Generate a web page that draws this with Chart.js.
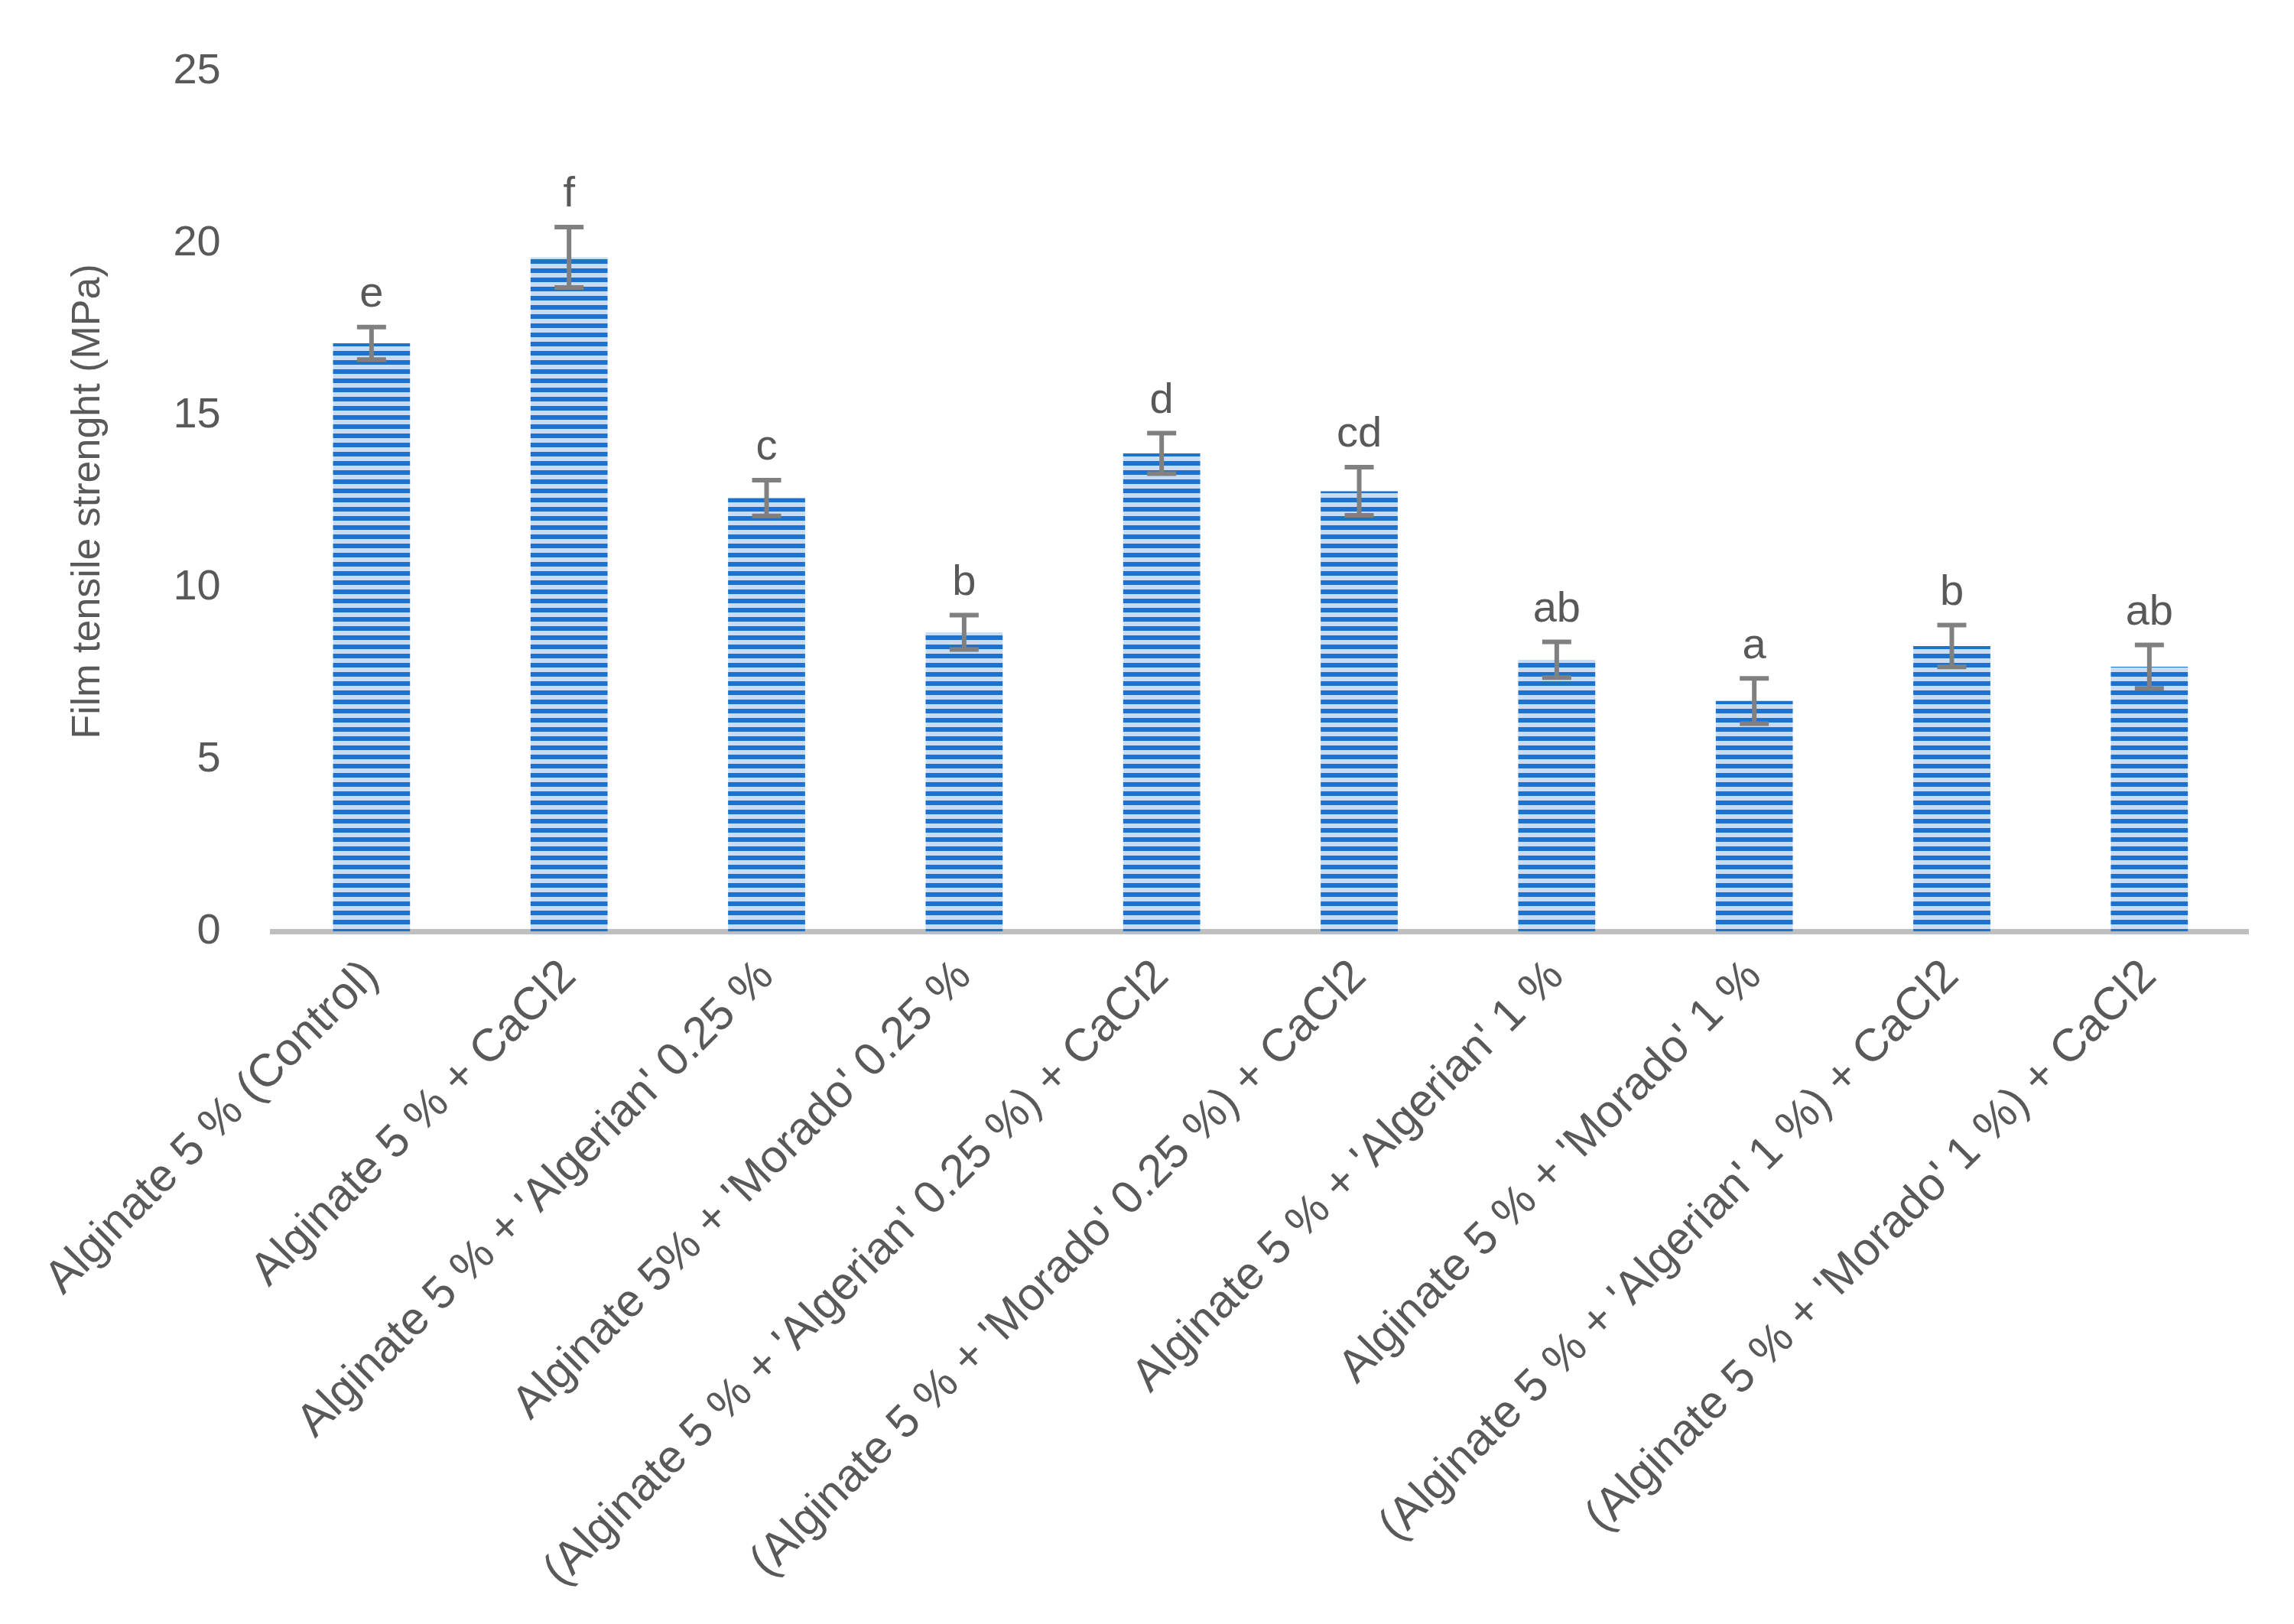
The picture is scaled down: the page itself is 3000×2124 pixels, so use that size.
<!DOCTYPE html>
<html>
<head>
<meta charset="utf-8">
<script src="https://cdn.jsdelivr.net/npm/chart.js@4"></script>
<style>
  html, body { margin: 0; background: #fff; }
  #wrap { width: 3000px; height: 2124px; }
</style>
</head>
<body>
<div id="wrap"><canvas id="chart" width="3000" height="2124"></canvas></div>
<script>
// Film tensile strength by formulation

const categories = [
  'Alginate 5 % (Control)',
  'Alginate 5 % + CaCl2',
  "Alginate 5 % + 'Algerian' 0.25 %",
  "Alginate 5% + 'Morado' 0.25 %",
  "(Alginate 5 % + 'Algerian' 0.25 %) + CaCl2",
  "(Alginate 5 % + 'Morado' 0.25 %) + CaCl2",
  "Alginate 5 % + 'Algerian' 1 %",
  "Alginate 5 % + 'Morado' 1 %",
  "(Alginate 5 % + 'Algerian' 1 %) + CaCl2",
  "(Alginate 5 % + 'Morado' 1 %) + CaCl2",
];
const strength = [17.1, 19.6, 12.6, 8.7, 13.9, 12.8, 7.9, 6.7, 8.3, 7.7];
const errors = [0.47, 0.88, 0.52, 0.5, 0.59, 0.7, 0.52, 0.66, 0.61, 0.63];
const letters = ['e', 'f', 'c', 'b', 'd', 'cd', 'ab', 'a', 'b', 'ab'];

const FONT = "'Liberation Sans', 'DejaVu Sans', sans-serif";
const GREY = '#595959';

function stripePattern(ctx) {
  const c = document.createElement('canvas');
  c.width = 8; c.height = 12;
  const p = c.getContext('2d');
  p.fillStyle = '#c9dcf3';
  p.fillRect(0, 0, 8, 12);
  p.fillStyle = '#1b73cf';
  p.fillRect(0, 3, 8, 6);
  return ctx.createPattern(c, 'repeat');
}

const errorBars = {
  id: 'errorBars',
  afterDatasetsDraw(chart) {
    const { ctx, scales: { y } } = chart;
    const meta = chart.getDatasetMeta(0);
    ctx.save();
    ctx.strokeStyle = '#808080';
    ctx.lineWidth = 6;
    ctx.fillStyle = GREY;
    ctx.font = '56px ' + FONT;
    ctx.textAlign = 'center';
    ctx.textBaseline = 'bottom';
    meta.data.forEach((bar, i) => {
      const hi = y.getPixelForValue(strength[i] + errors[i]);
      const lo = y.getPixelForValue(strength[i] - errors[i]);
      const x = bar.x;
      ctx.beginPath();
      ctx.moveTo(x, hi); ctx.lineTo(x, lo);
      ctx.moveTo(x - 19, hi); ctx.lineTo(x + 19, hi);
      ctx.moveTo(x - 19, lo); ctx.lineTo(x + 19, lo);
      ctx.stroke();
      ctx.fillText(letters[i], x, hi - 14);
    });
    ctx.restore();
  },
};

const ctx = document.getElementById('chart').getContext('2d');

new Chart(ctx, {
  type: 'bar',
  data: {
    labels: categories,
    datasets: [{
      data: strength,
      backgroundColor: stripePattern(ctx),
      categoryPercentage: 1,
      barPercentage: 0.39,
    }],
  },
  options: {
    responsive: false,
    animation: false,
    devicePixelRatio: 1,
    layout: { padding: { top: 40, right: 60, left: 80, bottom: 10 } },
    plugins: { legend: { display: false }, tooltip: { enabled: false } },
    scales: {
      x: {
        grid: { display: false, drawTicks: false },
        border: { color: '#bfbfbf', width: 7 },
        ticks: {
          color: GREY, font: { family: FONT, size: 60 },
          minRotation: 45, maxRotation: 45, padding: 24,
        },
      },
      y: {
        min: 0, max: 25,
        grid: { display: false },
        border: { display: false },
        ticks: {
          stepSize: 5, color: GREY, padding: 60,
          font: { family: FONT, size: 56 },
        },
        title: {
          display: true, text: 'Film tensile strenght (MPa)',
          color: GREY, font: { family: FONT, size: 52 }, padding: { bottom: 20 },
        },
      },
    },
  },
  plugins: [errorBars],
});
</script>
</body>
</html>
